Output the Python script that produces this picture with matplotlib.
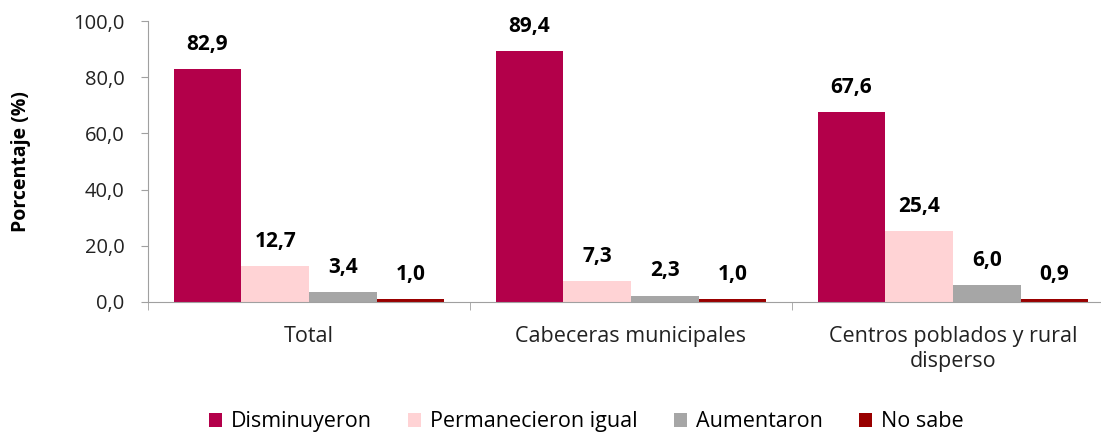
import matplotlib.pyplot as plt
import numpy as np

plt.rcParams['font.family'] = ['Open Sans', 'DejaVu Sans']

categorias = ['Total', 'Cabeceras municipales', 'Centros poblados y rural\ndisperso']
series = ['Disminuyeron', 'Permanecieron igual', 'Aumentaron', 'No sabe']
disminuyeron = [82.9, 89.4, 67.6]
permanecieron = [12.7, 7.3, 25.4]
aumentaron = [3.4, 2.3, 6.0]
no_sabe = [1.0, 1.0, 0.9]
colores = ['#B3004A', '#FFD3D5', '#A6A6A6', '#990000']

valores = [disminuyeron, permanecieron, aumentaron, no_sabe]

fig = plt.figure(figsize=(11.01, 4.33), dpi=100)
ax = fig.add_axes([148 / 1101, 131 / 433, 1 - 148 / 1101, 281 / 433])

x = np.arange(len(categorias))
w = 0.21
for i, (nombre, vals, col) in enumerate(zip(series, valores, colores)):
    pos = x + (i - 1.5) * w
    ax.bar(pos, vals, w, color=col, label=nombre)
    for p, v in zip(pos, vals):
        ax.text(p, v + 5, f'{v:.1f}'.replace('.', ','), ha='center', va='bottom',
                fontsize=15, fontweight='bold')

ax.set_ylim(0, 100)
ax.set_xlim(-0.5, 2.46)
ax.set_yticks(np.arange(0, 101, 20))
ax.set_yticklabels([f'{t:.1f}'.replace('.', ',') for t in np.arange(0, 101, 20)], fontsize=14.5,
                   color='#222222')
ax.set_xticks(x)
ax.set_xticklabels(categorias, fontsize=15.5, color='#222222', linespacing=1.3)
ax.set_xticks([-0.5, 0.5, 1.5], minor=True)
ax.tick_params(axis='x', which='major', length=0, pad=17)
ax.tick_params(axis='x', which='minor', length=6, color='#A0A0A0')
ax.tick_params(axis='y', length=5, color='#A0A0A0', pad=12)
ax.set_ylabel('Porcentaje (%)', fontsize=14, fontweight='bold', labelpad=30)

for s in ['top', 'right']:
    ax.spines[s].set_visible(False)
for s in ['left', 'bottom']:
    ax.spines[s].set_color('#A0A0A0')

ax.legend(loc='upper center', bbox_to_anchor=(0.46, -0.32), ncol=4, frameon=False,
          fontsize=15.5, handlelength=0.6, handleheight=0.6, columnspacing=1.7,
          handletextpad=0.4)

fig.savefig('out.png', dpi=100)
